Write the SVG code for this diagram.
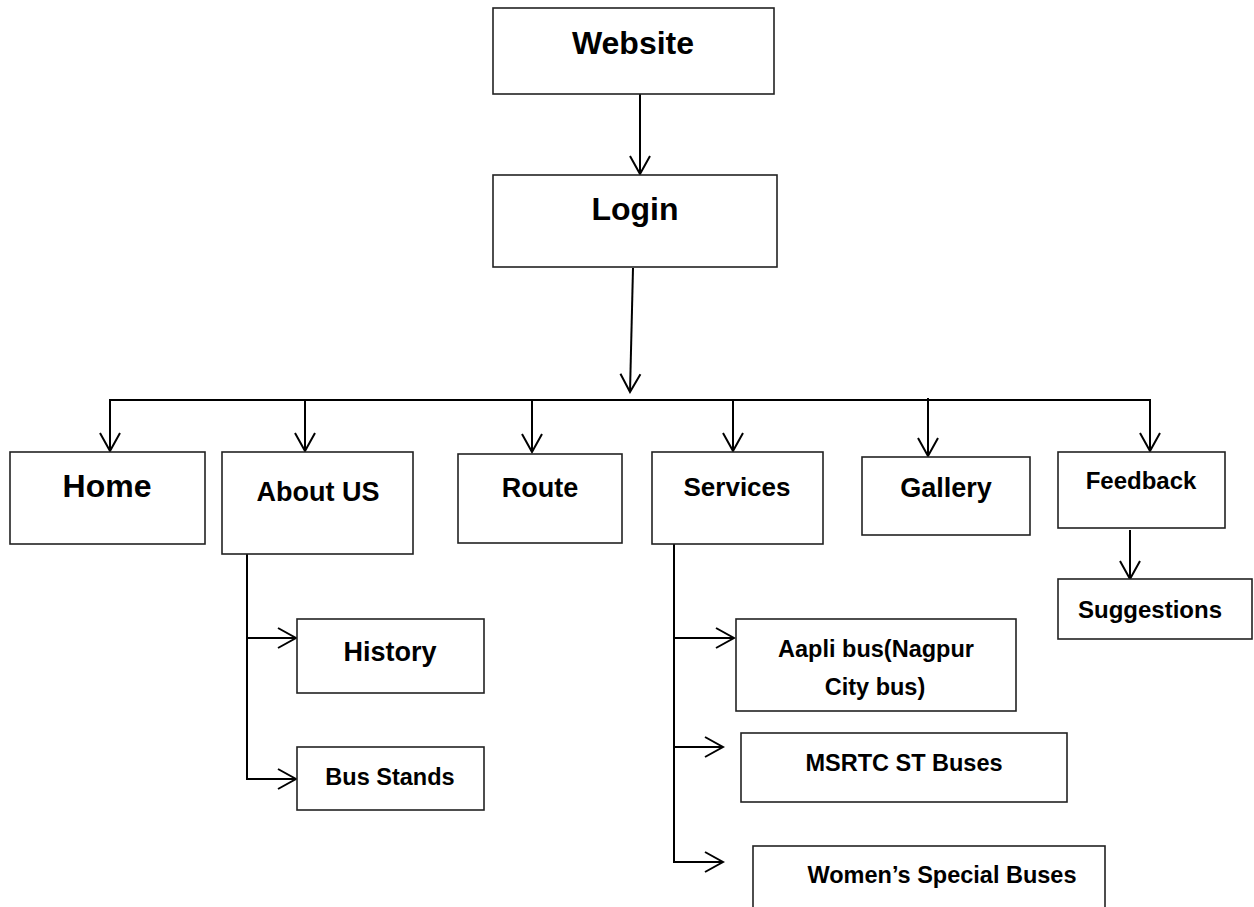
<svg xmlns="http://www.w3.org/2000/svg" width="1254" height="907" viewBox="0 0 1254 907">
<style>
.box{fill:#fff;stroke:#222;stroke-width:1.6}
.t{font-family:"Liberation Sans",Arial,sans-serif;font-weight:bold;fill:#000;text-anchor:middle}
.c{fill:none;stroke:#000;stroke-width:2}
</style>
<defs>
<marker id="arr" viewBox="-20 -12 22 24" markerWidth="22" markerHeight="24" refX="0" refY="0" markerUnits="userSpaceOnUse" orient="auto">
<path d="M -18 -10 L 0 0 L -18 10" fill="none" stroke="#000" stroke-width="2"/>
</marker>
</defs>
<rect width="1254" height="907" fill="#fff"/>
<g id="connectors">
<line class="c" x1="640" y1="94" x2="640" y2="174" marker-end="url(#arr)"/>
<line class="c" x1="633" y1="268" x2="630" y2="392" marker-end="url(#arr)"/>
<line class="c" x1="110" y1="400" x2="1150" y2="400"/>
<line class="c" x1="110" y1="399" x2="110" y2="451" marker-end="url(#arr)"/>
<line class="c" x1="305" y1="400" x2="305" y2="451" marker-end="url(#arr)"/>
<line class="c" x1="532" y1="400" x2="532" y2="452" marker-end="url(#arr)"/>
<line class="c" x1="733" y1="400" x2="733" y2="451" marker-end="url(#arr)"/>
<line class="c" x1="928" y1="398" x2="928" y2="456" marker-end="url(#arr)"/>
<line class="c" x1="1150" y1="399" x2="1150" y2="451" marker-end="url(#arr)"/>
<line class="c" x1="1130" y1="530" x2="1130" y2="579" marker-end="url(#arr)"/>
<polyline class="c" points="247,554 247,779 296,779" marker-end="url(#arr)"/>
<line class="c" x1="247" y1="638" x2="296" y2="638" marker-end="url(#arr)"/>
<polyline class="c" points="674,544 674,862 723,862" marker-end="url(#arr)"/>
<line class="c" x1="674" y1="638" x2="734" y2="638" marker-end="url(#arr)"/>
<line class="c" x1="674" y1="747" x2="723" y2="747" marker-end="url(#arr)"/>
</g>
<g id="website"><rect class="box" x="493" y="8" width="281" height="86"/><text class="t" x="633" y="54" font-size="32">Website</text></g>
<g id="login"><rect class="box" x="493" y="175" width="284" height="92"/><text class="t" x="635" y="220" font-size="32">Login</text></g>
<g id="home"><rect class="box" x="10" y="452" width="195" height="92"/><text class="t" x="107" y="497" font-size="32">Home</text></g>
<g id="aboutus"><rect class="box" x="222" y="452" width="191" height="102"/><text class="t" x="318" y="501" font-size="27">About US</text></g>
<g id="route"><rect class="box" x="458" y="454" width="164" height="89"/><text class="t" x="540" y="497" font-size="27">Route</text></g>
<g id="services"><rect class="box" x="652" y="452" width="171" height="92"/><text class="t" x="737" y="496" font-size="26">Services</text></g>
<g id="gallery"><rect class="box" x="862" y="457" width="168" height="78"/><text class="t" x="946" y="497" font-size="27">Gallery</text></g>
<g id="feedback"><rect class="box" x="1058" y="452" width="167" height="76"/><text class="t" x="1141" y="489" font-size="24">Feedback</text></g>
<g id="suggestions"><rect class="box" x="1058" y="579" width="194" height="60"/><text class="t" x="1150" y="618" font-size="24">Suggestions</text></g>
<g id="history"><rect class="box" x="297" y="619" width="187" height="74"/><text class="t" x="390" y="661" font-size="27">History</text></g>
<g id="busstands"><rect class="box" x="297" y="747" width="187" height="63"/><text class="t" x="390" y="785" font-size="23.5">Bus Stands</text></g>
<g id="aapli"><rect class="box" x="736" y="619" width="280" height="92"/><text class="t" x="876" y="657" font-size="23.5">Aapli bus(Nagpur</text><text class="t" x="875" y="695" font-size="23.5">City bus)</text></g>
<g id="msrtc"><rect class="box" x="741" y="733" width="326" height="69"/><text class="t" x="904" y="771" font-size="23.5">MSRTC ST Buses</text></g>
<g id="womens"><rect class="box" x="753" y="846" width="352" height="80"/><text class="t" x="942" y="883" font-size="23.5">Women’s Special Buses</text></g>
</svg>
